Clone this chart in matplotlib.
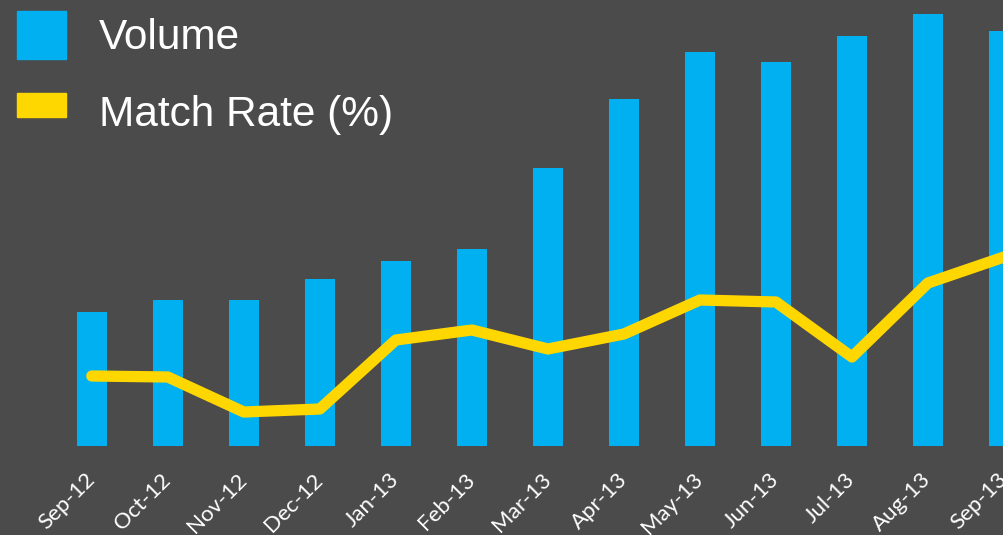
import matplotlib
matplotlib.use("Agg")
import matplotlib.pyplot as plt
from matplotlib.patches import Rectangle

months = ["Sep-12", "Oct-12", "Nov-12", "Dec-12", "Jan-13", "Feb-13", "Mar-13",
          "Apr-13", "May-13", "Jun-13", "Jul-13", "Aug-13", "Sep-13"]
volume = [134, 146, 146, 167, 185, 197, 278, 347, 394, 384, 410, 432, 415]
match_rate = [70, 69, 34, 37, 106, 116, 97, 112, 146, 144, 89, 163, 189]
series_names = ["Volume", "Match Rate (%)"]

BG = "#4B4B4B"
BLUE = "#00B0F0"
YELLOW = "#FFD700"

W, H = 1004, 535
fig = plt.figure(figsize=(W / 100, H / 100), dpi=100, facecolor=BG)
ax = fig.add_axes([0, 1 - 446 / H, 1, 446 / H], facecolor=BG)

x = list(range(len(months)))
ax.bar(x, volume, width=0.4, color=BLUE, zorder=2)

ax2 = ax.twinx()
ax2.plot(x, match_rate, color=YELLOW, lw=8.1, solid_joinstyle="round",
         solid_capstyle="round", zorder=3)

step = 76.2
ax.set_xlim(-92 / step, (W - 92) / step)
ax.set_ylim(0, 446)
ax2.set_ylim(0, 446)

for a in (ax, ax2):
    for s in a.spines.values():
        s.set_visible(False)
    a.set_yticks([])
ax.set_xticks(x)
ax.set_xticklabels(months, rotation=45, ha="right", va="center",
                   rotation_mode="anchor", color="white",
                   fontsize=16, family=["Lato", "DejaVu Sans"])
ax.tick_params(axis="x", length=0, pad=22)

# legend drawn manually
fig.patches.append(Rectangle((17 / W, 1 - 59 / H), 49 / W, 48 / H,
                             transform=fig.transFigure, color=BLUE, figure=fig))
fig.patches.append(Rectangle((17 / W, 1 - 117 / H), 49 / W, 24 / H,
                             transform=fig.transFigure, color=YELLOW, figure=fig))
fig.text(99 / W, 1 - 49 / H, series_names[0], color="white", fontsize=30.5,
         family="Liberation Sans", va="baseline", ha="left")
fig.text(99 / W, 1 - 126 / H, series_names[1], color="white", fontsize=30.5,
         family="Liberation Sans", va="baseline", ha="left")

fig.savefig("out.png", dpi=100, facecolor=BG)
